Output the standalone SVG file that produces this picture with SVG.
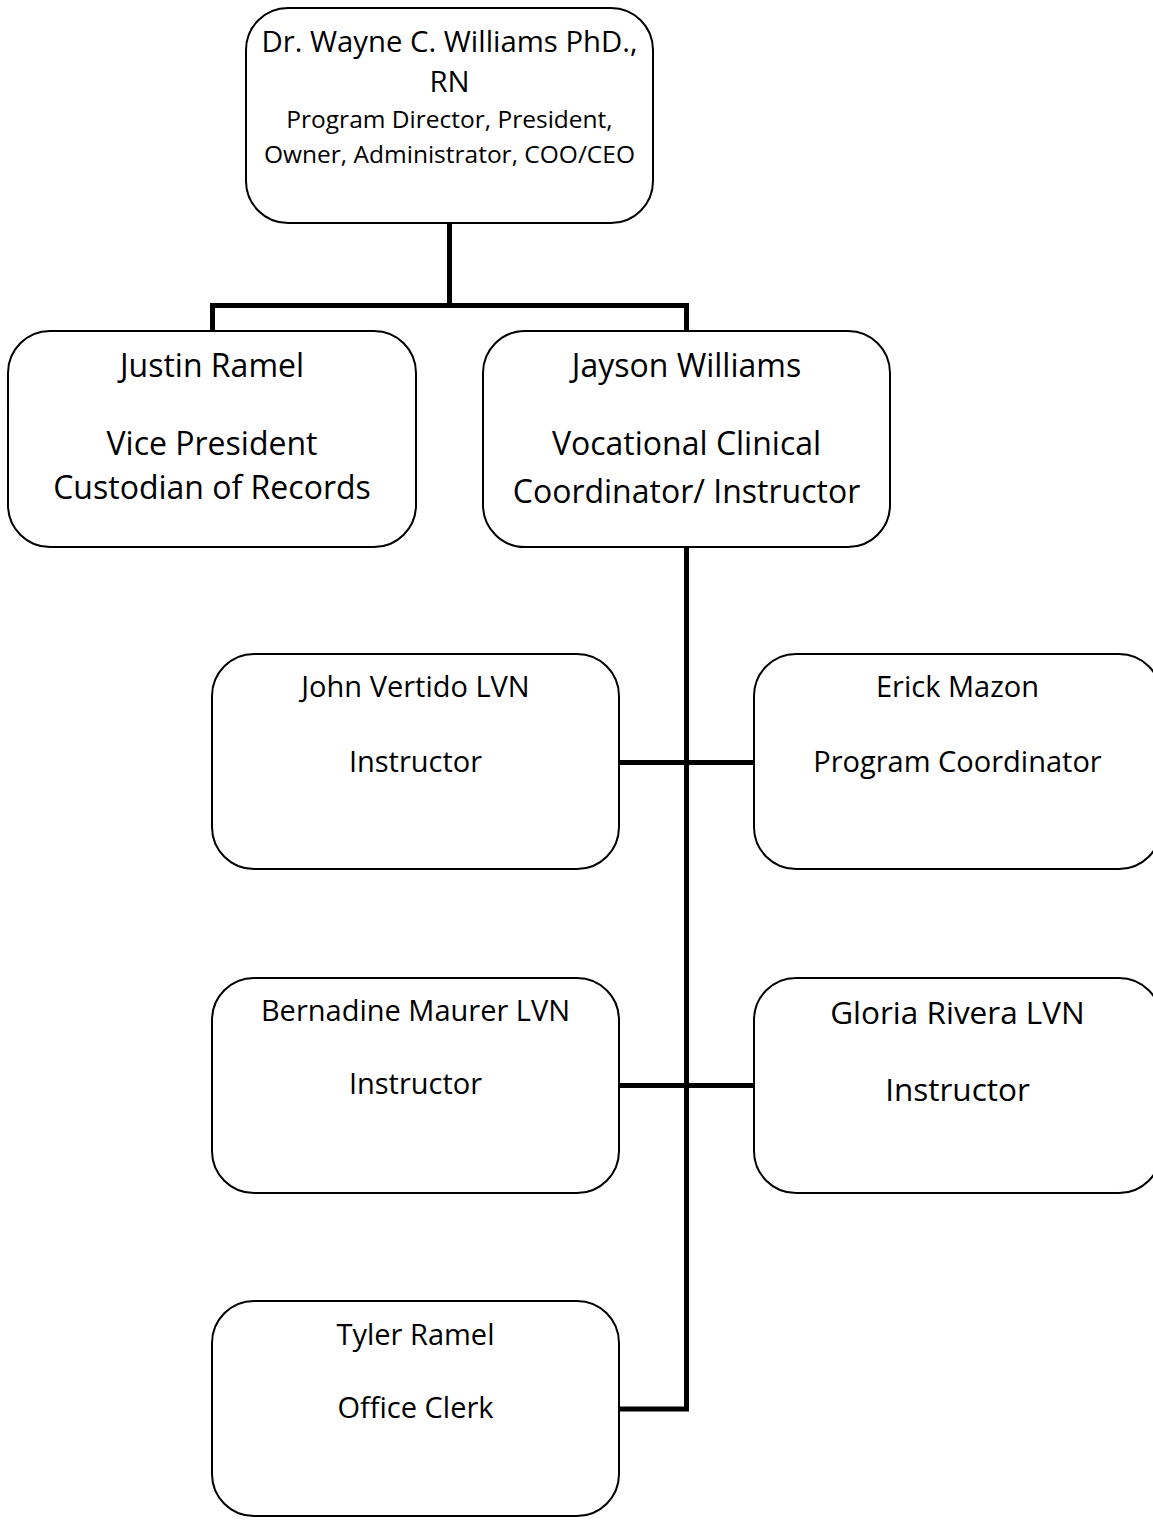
<svg xmlns="http://www.w3.org/2000/svg" width="1153" height="1520" viewBox="0 0 1153 1520">
<style>
  .box { fill: #ffffff; stroke: #000000; stroke-width: 2; }
  .conn { fill: none; stroke: #000000; stroke-width: 5; stroke-linejoin: miter; stroke-linecap: square; }
  text { font-family: "Open Sans", "Noto Sans", "Liberation Sans", sans-serif; fill: #000000; text-anchor: middle; }
  .ta { font-size: 29.3px; }
  .tb { font-size: 24.5px; }
  .tc { font-size: 32px; }
  .td { font-size: 29px; }
  .te { font-size: 31.5px; }
</style>
<rect width="1153" height="1520" fill="#ffffff"/>
<g id="connectors">
  <path class="conn" d="M449.5 224 V305.5 M212.5 331 V305.5 H686.5 V331"/>
  <path class="conn" d="M686.5 548 V1409 H620"/>
  <path class="conn" d="M620 762.5 H754"/>
  <path class="conn" d="M620 1085.5 H754"/>
</g>
<g id="node-wayne">
  <rect class="box" x="246" y="8" width="407" height="215" rx="42"/>
  <text class="ta" x="449.5" y="52">Dr. Wayne C. Williams PhD.,</text>
  <text class="ta" x="449.5" y="92">RN</text>
  <text class="tb" x="449.5" y="128">Program Director, President,</text>
  <text class="tb" x="449.5" y="163">Owner, Administrator, COO/CEO</text>
</g>
<g id="node-justin">
  <rect class="box" x="8" y="331" width="408" height="216" rx="42"/>
  <text class="tc" x="212" y="377">Justin Ramel</text>
  <text class="tc" x="212" y="455">Vice President</text>
  <text class="tc" x="212" y="499">Custodian of Records</text>
</g>
<g id="node-jayson">
  <rect class="box" x="483" y="331" width="407" height="216" rx="42"/>
  <text class="tc" x="686.5" y="377">Jayson Williams</text>
  <text class="tc" x="686.5" y="455">Vocational Clinical</text>
  <text class="tc" x="686.5" y="503">Coordinator/ Instructor</text>
</g>
<g id="node-john">
  <rect class="box" x="212" y="654" width="407" height="215" rx="42"/>
  <text class="td" x="415.5" y="697">John Vertido LVN</text>
  <text class="td" x="415.5" y="772">Instructor</text>
</g>
<g id="node-erick">
  <rect class="box" x="754" y="654" width="407" height="215" rx="42"/>
  <text class="td" x="957.5" y="697">Erick Mazon</text>
  <text class="td" x="957.5" y="772">Program Coordinator</text>
</g>
<g id="node-bernadine">
  <rect class="box" x="212" y="978" width="407" height="215" rx="42"/>
  <text class="td" x="415.5" y="1021">Bernadine Maurer LVN</text>
  <text class="td" x="415.5" y="1094">Instructor</text>
</g>
<g id="node-gloria">
  <rect class="box" x="754" y="978" width="407" height="215" rx="42"/>
  <text class="te" x="957.5" y="1024">Gloria Rivera LVN</text>
  <text class="te" x="957.5" y="1101">Instructor</text>
</g>
<g id="node-tyler">
  <rect class="box" x="212" y="1301" width="407" height="215" rx="42"/>
  <text class="td" x="415.5" y="1345">Tyler Ramel</text>
  <text class="td" x="415.5" y="1418">Office Clerk</text>
</g>
</svg>
